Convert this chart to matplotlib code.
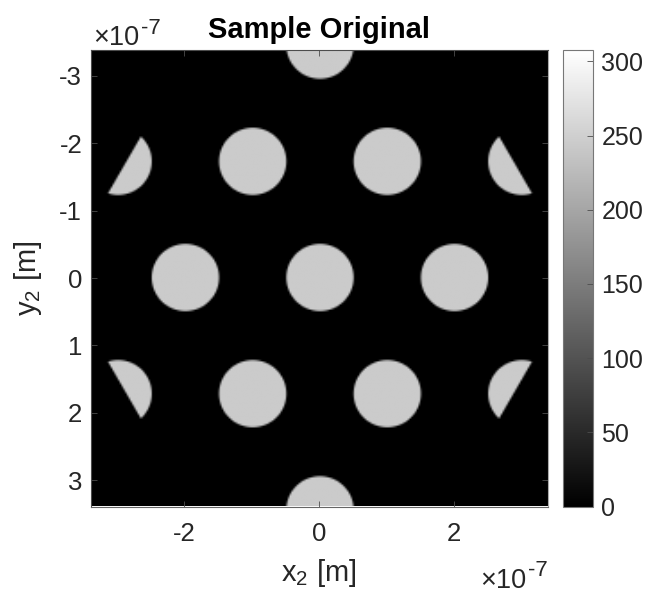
import numpy as np
import matplotlib
matplotlib.use("Agg")
import matplotlib.pyplot as plt

plt.rcParams['font.family'] = ['Liberation Sans', 'DejaVu Sans']
plt.rcParams['mathtext.fontset'] = 'custom'
plt.rcParams['mathtext.rm'] = 'Liberation Sans'
plt.rcParams['mathtext.default'] = 'regular'

# values, lengths in units of 1e-7 m
centre_x = [0, -2, 2, -1, 1, -1, 1, -3, 3, -3, 3, 0, 0]
centre_y = [0, 0, 0, -1.73, -1.73, 1.73, 1.73, -1.73, -1.73, 1.73, 1.73, -3.46, 3.46]
radius = 0.5
hex_apothem = 3.355
half_width = 3.39
disc_value = 245
cbar_max = 308
xticks = [-2, 0, 2]
yticks = [-3, -2, -1, 0, 1, 2, 3]
cticks = [0, 50, 100, 150, 200, 250, 300]

W, H = 654, 606
dark = '#262626'
edge = '#4d4d4d'

# sample grid, disc edges get partial values so they stay soft
n = 256
grid = np.linspace(-half_width, half_width, n)
step = grid[1] - grid[0]
xx, yy = np.meshgrid(grid, grid)
img = np.zeros((n, n))
for cx, cy in zip(centre_x, centre_y):
    d = np.sqrt((xx - cx)**2 + (yy - cy)**2)
    img = np.maximum(img, disc_value * np.clip((radius - d) / step + 0.5, 0, 1))
# everything outside the hexagon is cut away
hex_d = (np.sqrt(3) * np.abs(xx) + np.abs(yy) - 2 * hex_apothem) / 2
img = img * np.clip(0.5 - hex_d / step, 0, 1)

fig = plt.figure(figsize=(W / 100, H / 100), dpi=100)


def box(l, t, r, b):
    return [l / W, 1 - b / H, (r - l) / W, (b - t) / H]


ax = fig.add_axes(box(90.5, 49.5, 548, 506.5))
im = ax.imshow(img, cmap='gray', vmin=0, vmax=cbar_max, interpolation='bilinear',
               extent=[-half_width, half_width, half_width, -half_width], aspect='auto')
ax.set_xticks(xticks)
ax.set_yticks(yticks)
ax.tick_params(direction='in', length=4.5, width=0.6, color=edge, top=True, right=True,
               labelsize=18.5, labelcolor=dark, pad=6)
ax.tick_params(axis='x', pad=11)
for s in ax.spines.values():
    s.set_linewidth(0.8)
    s.set_color(edge)
ax.spines['right'].set_color('#aaaaaa')
ax.spines['bottom'].set_color('#666666')
ax.set_xticklabels([str(v) for v in xticks])
ax.set_yticklabels([str(v) for v in yticks])

fig.text(319 / W, 1 - 30 / H, 'Sample Original', fontsize=21, fontweight='bold',
         color='black', ha='center', va='center')
fig.text(319 / W, 1 - 573 / H, 'x$_2$ [m]', fontsize=21, color=dark, ha='center', va='center')
fig.text(28 / W, 1 - 278 / H, 'y$_2$ [m]', fontsize=21, color=dark, rotation=90,
         ha='center', va='center')

# the two axis multipliers
for x0, y0 in [(93, 38), (480, 581)]:
    fig.text(x0 / W, 1 - y0 / H, '\u00d710', fontsize=19.5, color=dark, ha='left', va='center')
    fig.text((x0 + 48) / W, 1 - (y0 - 10) / H, '-7', fontsize=16, color=dark, ha='left', va='center')

cax = fig.add_axes(box(562.5, 49.5, 593, 506.5))
cb = fig.colorbar(im, cax=cax)
cb.set_ticks(cticks)
cb.set_ticklabels([str(v) for v in cticks])
cax.tick_params(direction='in', length=4.5, width=0.6, color=edge, labelsize=18,
                labelcolor=dark, pad=6)
cb.outline.set_linewidth(0.8)
cb.outline.set_edgecolor('#777777')

fig.savefig('out.png', dpi=100)
